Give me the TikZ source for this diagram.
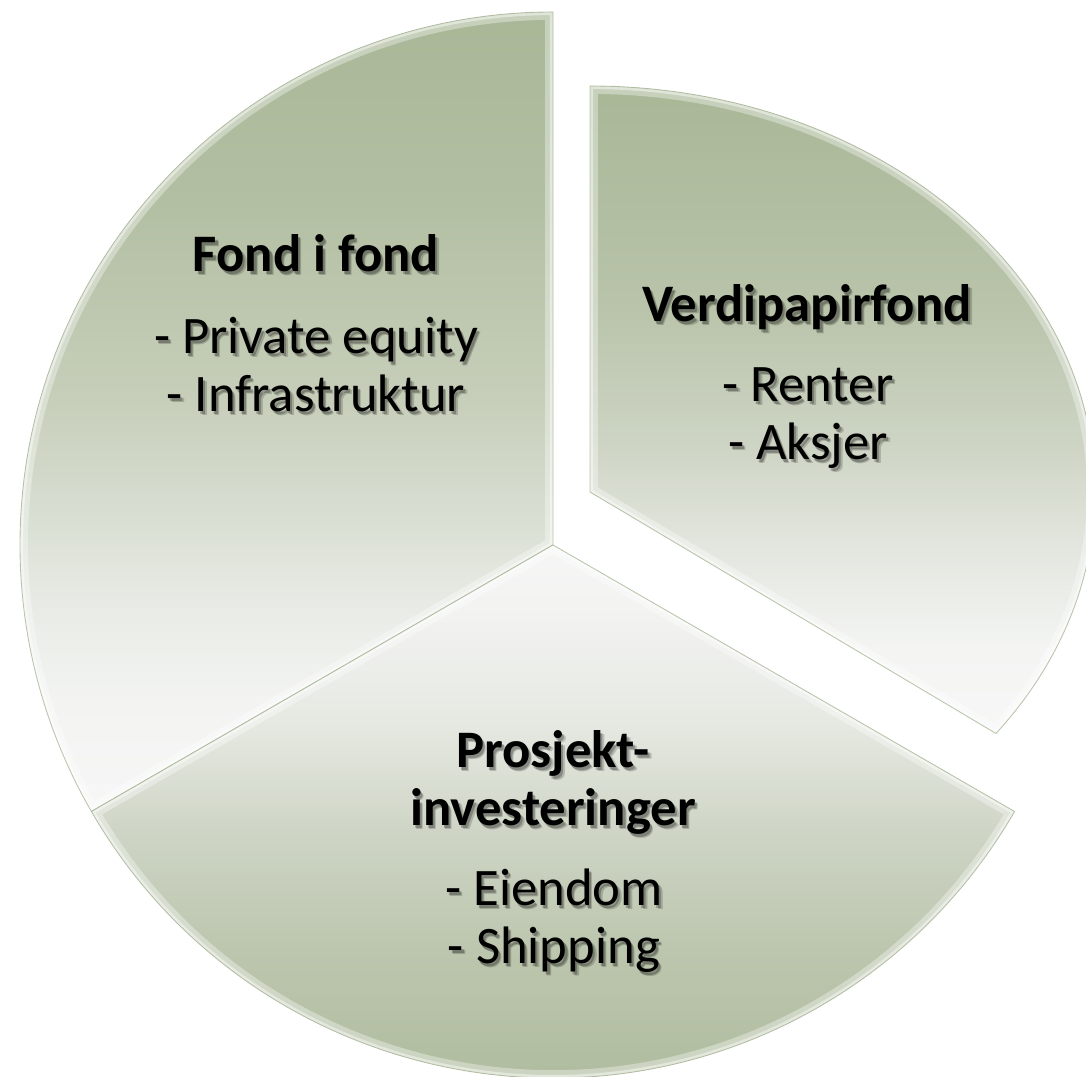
\documentclass[tikz,border=0pt]{standalone}
\usepackage{fontspec}
\setmainfont{Carlito}
\definecolor{gtop}{HTML}{A9B797}
\definecolor{pw}{HTML}{F6F6F6}
\definecolor{lA}{HTML}{F3F4F2}
\definecolor{lB}{HTML}{E8EBE5}
\definecolor{lC}{HTML}{D6DCCF}
\definecolor{lD}{HTML}{C6CEB9}
\definecolor{lE}{HTML}{B3BFA3}
\definecolor{rA}{HTML}{F4F5F3}
\definecolor{rB}{HTML}{E4E7E0}
\definecolor{rC}{HTML}{CED5C5}
\definecolor{rD}{HTML}{B8C3A9}
\definecolor{bA}{HTML}{BCC6AE}
\definecolor{bB}{HTML}{CDD4C4}
\definecolor{bC}{HTML}{E6E9E2}
\definecolor{bD}{HTML}{F3F3F2}
\definecolor{edgecol}{HTML}{8FA27A}
\pgfdeclareverticalshading{shadeL}{100bp}{color(0bp)=(pw); color(25bp)=(pw); color(32bp)=(lA); color(38bp)=(lB); color(44.5bp)=(lC); color(51bp)=(lD); color(63bp)=(lE); color(75bp)=(gtop); color(100bp)=(gtop)}
\pgfdeclareverticalshading{shadeR}{100bp}{color(0bp)=(pw); color(25bp)=(pw); color(31.5bp)=(rA); color(39bp)=(rB); color(47bp)=(rC); color(58.5bp)=(rD); color(75bp)=(gtop); color(100bp)=(gtop)}
\pgfdeclareverticalshading{shadeB}{100bp}{color(0bp)=(gtop); color(25bp)=(gtop); color(41.7bp)=(bA); color(51bp)=(bB); color(60.5bp)=(bC); color(69.8bp)=(bD); color(75bp)=(pw); color(100bp)=(pw)}
\newcommand{\shadowed}[1]{%
  \makebox[0pt][l]{\raisebox{-2pt}[0pt][0pt]{\kern2pt\pgfsetfillopacity{0.18}#1}}%
  \makebox[0pt][l]{\raisebox{-1.2pt}[0pt][0pt]{\kern1.2pt\pgfsetfillopacity{0.25}#1}}%
  \pgfsetfillopacity{1}#1}
\tikzset{
  txt/.style={anchor=base, inner sep=0pt, text=black, font=\fontsize{30}{36}\selectfont},
  ttl/.style={txt, font=\fontsize{30}{36}\selectfont\bfseries},
  hilite/.style={draw=white, line width=9pt, draw opacity=0.35},
  hilite2/.style={draw=white, line width=3.5pt, draw opacity=0.45},
  rim/.style={draw=edgecol, line width=0.5pt, draw opacity=0.6}
}
\newcommand{\sectorfx}[2]{%
  \path[shading=#2] #1;
  \begin{scope}\clip #1; \path[hilite] #1; \path[hilite2] #1; \end{scope}
  \path[rim] #1;
}
\begin{document}
\begin{tikzpicture}[x=0.02cm, y=0.02cm]
\useasboundingbox (0,0) rectangle (1086,1077);
\clip (0,0) rectangle (1086,1077);
% left sector: Fond i fond
\sectorfx{(553,532) -- (553,1065) arc[start angle=90, end angle=210, radius=533] -- cycle}{shadeL}
% bottom sector: Prosjektinvesteringer
\sectorfx{(553,532) -- ++(210:533) arc[start angle=210, end angle=330, radius=533] -- cycle}{shadeB}
% right sector: Verdipapirfond (exploded)
\sectorfx{(590,585) -- (590,991) arc[start angle=90, end angle=-36.5, x radius=505, y radius=406] -- cycle}{shadeR}
% texts
\node[ttl] (t1)  at (316,805) {\shadowed{Fond i fond}};
\node[txt] (t1a) at (316,723) {\shadowed{- Private equity}};
\node[txt] (t1b) at (316,665) {\shadowed{- Infrastruktur}};
\node[ttl] (t2)  at (807,755) {\shadowed{Verdipapirfond}};
\node[txt] (t2a) at (808,675) {\shadowed{- Renter}};
\node[txt] (t2b) at (808,617) {\shadowed{- Aksjer}};
\node[ttl] (t3)  at (553,309) {\shadowed{Prosjekt-}};
\node[ttl] (t3b) at (553,251) {\shadowed{investeringer}};
\node[txt] (t3c) at (554,171) {\shadowed{- Eiendom}};
\node[txt] (t3d) at (554,113) {\shadowed{- Shipping}};
\end{tikzpicture}
\end{document}
